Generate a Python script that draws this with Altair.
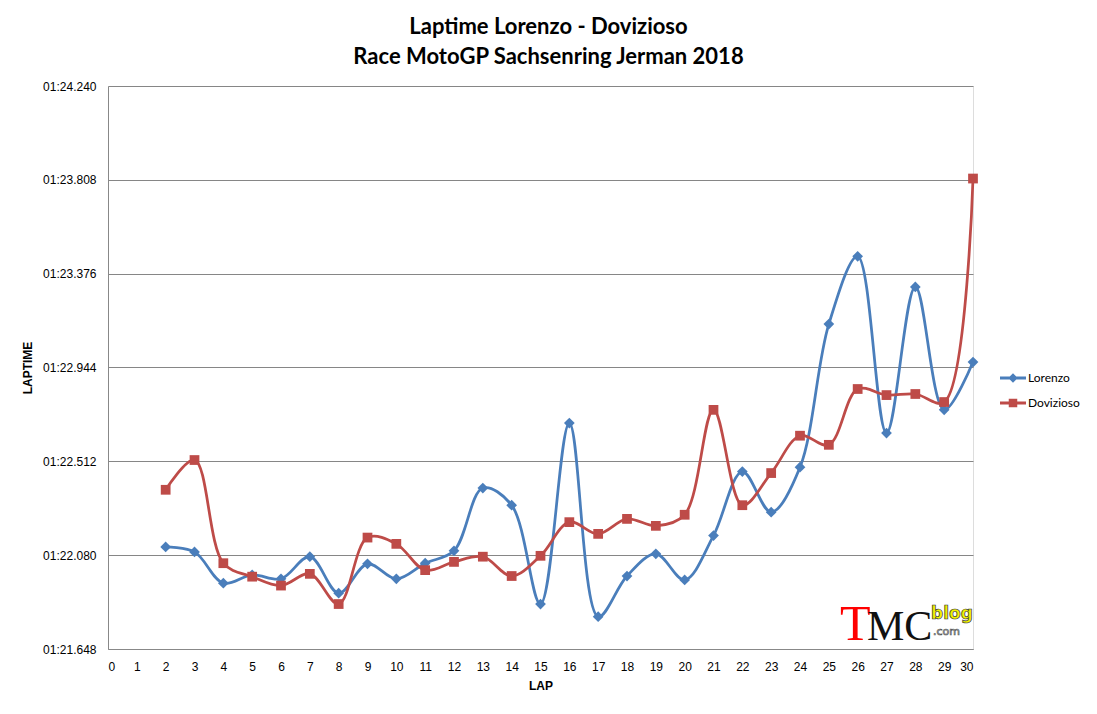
import altair as alt
import pandas as pd

# lap times in seconds (01:22.118 -> 82.118)
laps = list(range(2, 31))
lorenzo = [82.118, 82.095, 81.951, 81.989, 81.971, 82.073, 81.905, 82.040, 81.971, 82.043,
           82.100, 82.389, 82.310, 81.855, 82.688, 81.797, 81.984, 82.086, 81.966, 82.170,
           82.465, 82.278, 82.485, 83.144, 83.456, 82.642, 83.315, 82.749, 82.969]
dovizioso = [82.381, 82.518, 82.043, 81.981, 81.940, 81.994, 81.855, 82.161, 82.132, 82.011,
             82.049, 82.073, 81.984, 82.077, 82.232, 82.178, 82.247, 82.215, 82.266, 82.749,
             82.310, 82.458, 82.630, 82.588, 82.845, 82.817, 82.822, 82.785, 83.814]
riders = ["Lorenzo", "Dovizioso"]
colors = ["#4A7EBB", "#BE4B48"]
markers = ["diamond", "square"]
y_ticks = [81.648, 82.080, 82.512, 82.944, 83.376, 83.808, 84.240]
x_ticks = list(range(0, 31))

FONT = "Lato"
W, H = 865, 563

df = pd.concat([
    pd.DataFrame({"lap": laps, "laptime": lorenzo, "rider": "Lorenzo"}),
    pd.DataFrame({"lap": laps, "laptime": dovizioso, "rider": "Dovizioso"}),
])

x = alt.X("lap:Q", title="LAP",
          scale=alt.Scale(domain=[0, 30], nice=False, zero=False),
          axis=alt.Axis(values=x_ticks, grid=False, ticks=False, labelAngle=0,
                        labelPadding=12, labelFontSize=12, titlePadding=8,
                        titleFontSize=12, titleFontWeight="bold"))
y = alt.Y("laptime:Q", title="LAPTIME",
          scale=alt.Scale(domain=[y_ticks[0], y_ticks[-1]], nice=False, zero=False),
          axis=alt.Axis(values=y_ticks, grid=True, ticks=False,
                        gridColor="#868686", gridOpacity=1, gridWidth=1,
                        labelExpr="'01:' + format(datum.value - 60, '06.3f')",
                        labelPadding=12, labelFontSize=12,
                        titleFontSize=12, titleFontWeight="bold",
                        titleX=-74, titleY=H / 2))

base = alt.Chart(df).encode(x=x, y=y)

# one smoothed line + markers per rider
series = []
for rider, col, shp in zip(riders, colors, markers):
    sub = base.transform_filter(alt.datum.rider == rider)
    series.append(sub.mark_line(interpolate="catmull-rom", strokeWidth=2.75, color=col))
    series.append(sub.mark_point(shape=shp, filled=True, opacity=1, strokeWidth=0, color=col,
                                 size=115 if shp == "diamond" else 95))

# legend symbols: short line with the marker on it
legend_paths = [
    "M-2.6,-0.28H2.6V0.28H-2.6Z M0,-0.95L0.95,0L0,0.95L-0.95,0Z",
    "M-2.6,-0.28H2.6V0.28H-2.6Z M-0.85,-0.85H0.85V0.85H-0.85Z",
]
leg = alt.Legend(title=None, orient="none", legendX=W + 34, legendY=286, padding=0,
                 symbolSize=100, symbolOpacity=1, symbolStrokeWidth=0, labelOffset=9,
                 rowPadding=13, labelFont=FONT, labelFontSize=12, labelColor="#000000")
legend_layer = base.mark_point(filled=True, opacity=0, size=100).encode(
    color=alt.Color("rider:N", scale=alt.Scale(domain=riders, range=colors), legend=leg),
    shape=alt.Shape("rider:N", scale=alt.Scale(domain=riders, range=legend_paths), legend=leg),
)

# TMC blog watermark
logo = alt.Chart(pd.DataFrame({"k": [0]}))
logo_t = logo.mark_text(text="T", x=W - 133, y=H - 9, align="left", baseline="alphabetic",
                        font="Liberation Serif", fontSize=50, color="#FF0000")
logo_mc = logo.mark_text(text="MC", x=W - 106, y=H - 9, align="left", baseline="alphabetic",
                         font="Liberation Serif", fontSize=42, color="#111111")
logo_blog = logo.mark_text(text="blog", x=W - 42, y=H - 30, align="left", baseline="alphabetic",
                           font="DejaVu Sans", fontWeight="bold", fontSize=17,
                           color="#F2F200", stroke="#333333", strokeWidth=0.7)
logo_com = logo.mark_text(text=".com", x=W - 40, y=H - 14, align="left", baseline="alphabetic",
                          font="DejaVu Sans", fontSize=11, color="#FFFFFF",
                          stroke="#555555", strokeWidth=0.7)

chart = alt.layer(*series, legend_layer,
                  logo_t, logo_mc, logo_blog, logo_com).properties(
    width=W, height=H,
    title=alt.TitleParams(
        text=["Laptime Lorenzo - Dovizioso", "Race MotoGP Sachsenring Jerman 2018"],
        font=FONT, fontSize=22, fontWeight="bold", lineHeight=30, color="#000000",
        anchor="middle", dx=8, offset=11),
    autosize=alt.AutoSizeParams(type="none"),
    padding={"left": 100, "top": 78, "right": 112, "bottom": 44},
).configure_view(stroke=None).configure_axis(
    labelFont=FONT, titleFont=FONT, labelColor="#000000", titleColor="#000000",
    domainColor="#868686", domainWidth=1,
).configure(background="white")

chart.save("out.html", embed_options={"renderer": "svg", "actions": False})
